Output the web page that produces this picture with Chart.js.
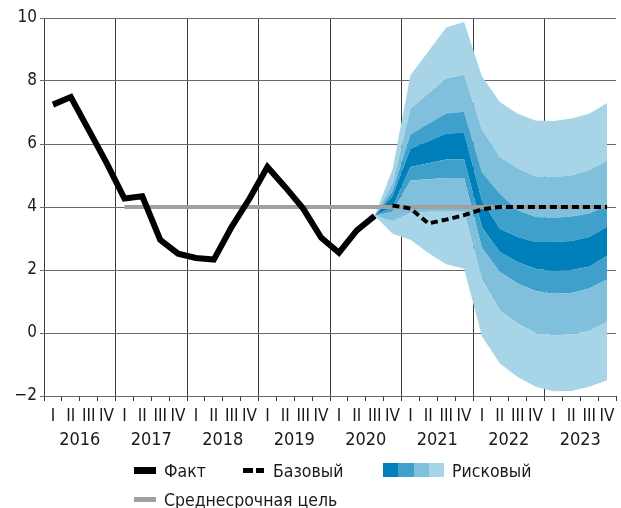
<!DOCTYPE html>
<html lang="ru">
<head>
<meta charset="utf-8">
<title>Инфляция: факт и прогноз</title>
<script src="https://cdn.jsdelivr.net/npm/chart.js@4.4.0/dist/chart.umd.min.js"></script>
<style>
	body { margin:0; background:#fff; }
	#wrap { position:relative; width:621px; height:508px; font-family:'Liberation Sans Narrow','DejaVu Sans Condensed',Roboto,sans-serif; color:#1a1a1a; }
	#wrap canvas { position:absolute; left:0; top:0; }
	.txt { position:absolute; font-size:17.5px; line-height:20px; white-space:nowrap; }
	.sw { position:absolute; }
</style>
</head>
<body>
<div id="wrap">
	<canvas id="chart" width="621" height="508"></canvas>

	<!-- legend -->
	<div class="sw" style="left:134px;top:467px;width:22px;height:7px;background:#000;"></div>
	<div class="txt" style="left:164px;top:461px;">Факт</div>

	<div class="sw" style="left:243px;top:468px;width:10px;height:5px;background:#000;"></div>
	<div class="sw" style="left:256px;top:468px;width:8px;height:5px;background:#000;"></div>
	<div class="txt" style="left:273px;top:461px;">Базовый</div>

	<div class="sw" style="left:383px;top:463px;width:15px;height:14px;background:#0080ba;"></div>
	<div class="sw" style="left:398px;top:463px;width:16px;height:14px;background:#40a0cc;"></div>
	<div class="sw" style="left:414px;top:463px;width:15px;height:14px;background:#80c0dd;"></div>
	<div class="sw" style="left:429px;top:463px;width:15px;height:14px;background:#a8d4e8;"></div>
	<div class="txt" style="left:452px;top:461px;">Рисковый</div>

	<div class="sw" style="left:134px;top:497px;width:22px;height:5px;background:#a0a0a0;"></div>
	<div class="txt" style="left:164px;top:490px;">Среднесрочная цель</div>
</div>

<script>
	// axis labels
	const years = ['2016','2017','2018','2019','2020','2021','2022','2023'];
	const quarterNames = ['I','II','III','IV'];

	// fact: 2016 Q1 .. 2020 Q3
	const factValues = [7.25,7.49,6.45,5.40,4.27,4.34,2.96,2.52,2.38,2.33,3.37,4.27,5.27,4.63,3.95,3.03,2.55,3.26,3.72];
	// base scenario: 2020 Q4 .. 2023 Q4
	const baseValues = [4.05,3.95,3.48,3.60,3.74,3.93,4.00,4.00,4.00,4.00,4.00,4.00,4.00];
	// medium-term target: 2017 Q1 .. 2023 Q4
	const targetValues = [4,4];
	const targetQuarters = [4,31];

	// fan boundaries: 2020 Q3 .. 2023 Q4 (lower 4 -> upper 4)
	const fanL4 = [3.72,3.15,2.96,2.54,2.18,2.04,-0.10,-0.97,-1.40,-1.71,-1.85,-1.84,-1.71,-1.50];
	const fanL3 = [3.72,3.55,3.80,3.85,3.85,3.85,1.70,0.72,0.30,0.00,-0.07,-0.05,0.06,0.35];
	const fanL2 = [3.72,3.85,4.84,4.88,4.92,4.92,2.70,1.94,1.57,1.33,1.25,1.27,1.41,1.70];
	const fanL1 = [3.72,4.00,5.27,5.39,5.51,5.51,3.35,2.57,2.25,2.04,1.97,2.00,2.10,2.45];
	const fanU1 = [3.72,4.35,5.85,6.09,6.33,6.36,4.20,3.31,3.05,2.89,2.89,2.92,3.05,3.37];
	const fanU2 = [3.72,4.50,6.30,6.64,6.97,7.02,5.10,4.42,3.90,3.68,3.66,3.70,3.79,4.05];
	const fanU3 = [3.72,4.75,7.12,7.60,8.08,8.20,6.45,5.59,5.22,4.97,4.95,5.00,5.17,5.48];
	const fanU4 = [3.72,5.20,8.18,8.94,9.70,9.87,8.15,7.33,6.96,6.75,6.73,6.81,6.96,7.30];

	const factStart = 0, baseStart = 19, fanStart = 18;

	const fontFamily = "'Liberation Sans Narrow','DejaVu Sans Condensed',Roboto,sans-serif";
	const textColor = '#1a1a1a';

	function toPoints(values, start) {
		return values.map((v, i) => ({ x: start + i + 0.5, y: v }));
	}

	const fanLayers = [
		{ data: fanL4, color: null },
		{ data: fanL3, color: '#a8d4e8' },
		{ data: fanL2, color: '#80c0dd' },
		{ data: fanL1, color: '#40a0cc' },
		{ data: fanU1, color: '#0080ba' },
		{ data: fanU2, color: '#40a0cc' },
		{ data: fanU3, color: '#80c0dd' },
		{ data: fanU4, color: '#a8d4e8' }
	];

	const fanDatasets = fanLayers.map((l, i) => ({
		data: toPoints(l.data, fanStart),
		borderColor: 'transparent',
		borderWidth: 0,
		backgroundColor: l.color || 'transparent',
		fill: i === 0 ? false : '-1',
		pointRadius: 0,
		order: 10
	}));

	const datasets = fanDatasets.concat([
		{
			data: targetQuarters.map((q, i) => ({ x: q + 0.5, y: targetValues[i] })),
			borderColor: '#a0a0a0',
			borderWidth: 4,
			pointRadius: 0,
			fill: false,
			order: 3
		},
		{
			data: toPoints(factValues, factStart),
			borderColor: '#000',
			borderWidth: 6,
			pointRadius: 0,
			fill: false,
			order: 2
		},
		{
			data: toPoints(baseValues, baseStart),
			borderColor: '#000',
			borderWidth: 4,
			borderDash: [7,4],
			pointRadius: 0,
			fill: false,
			order: 1
		}
	]);

	new Chart(document.getElementById('chart'), {
		type: 'line',
		data: { datasets: datasets },
		options: {
			responsive: false,
			devicePixelRatio: 1,
			animation: false,
			layout: { padding: { left: 0, right: 1, top: 18, bottom: 62 } },
			plugins: { legend: { display: false }, tooltip: { enabled: false } },
			scales: {
				x: {
					type: 'linear', min: 0, max: 32, position: 'bottom', weight: 0,
					afterBuildTicks: function (axis) {
						const t = [];
						for (let i = 0; i <= 64; i++) t.push({ value: i / 2 });
						axis.ticks = t;
					},
					afterFit: function (s) { s.height = 26; },
					ticks: {
						autoSkip: false, maxRotation: 0, padding: 5,
						color: textColor, font: { family: fontFamily, size: 17 },
						callback: function (v) {
							return Number.isInteger(v) ? '' : quarterNames[Math.floor(v) % 4];
						}
					},
					grid: {
						tickLength: 5,
						color: function (ctx) {
							const v = ctx.tick ? ctx.tick.value : -1;
							return (v % 4 === 0 && v < 32) ? '#3a3a3a' : 'transparent';
						},
						tickColor: function (ctx) {
							const v = ctx.tick ? ctx.tick.value : 0.5;
							return Number.isInteger(v) ? '#3a3a3a' : 'transparent';
						}
					},
					border: { display: false }
				},
				xYear: {
					type: 'linear', min: 0, max: 32, position: 'bottom', weight: 1,
					afterBuildTicks: function (axis) {
						axis.ticks = years.map((y, i) => ({ value: i * 4 + 2 }));
					},
					afterFit: function (s) { s.height = 24; },
					ticks: {
						autoSkip: false, maxRotation: 0, padding: 8,
						color: textColor, font: { family: fontFamily, size: 18 },
						callback: function (v) { return years[(v - 2) / 4]; }
					},
					grid: { display: false, drawTicks: false },
					border: { display: false }
				},
				y: {
					min: -2, max: 10,
					afterFit: function (s) { s.width = 44; },
					ticks: {
						stepSize: 2, padding: 3,
						color: textColor, font: { family: fontFamily, size: 17 },
						callback: function (v) { return v < 0 ? '\u2212' + Math.abs(v) : String(v); }
					},
					grid: { color: '#6a6a6a', tickLength: 4 },
					border: { display: false }
				}
			}
		}
	});
</script>
</body>
</html>
